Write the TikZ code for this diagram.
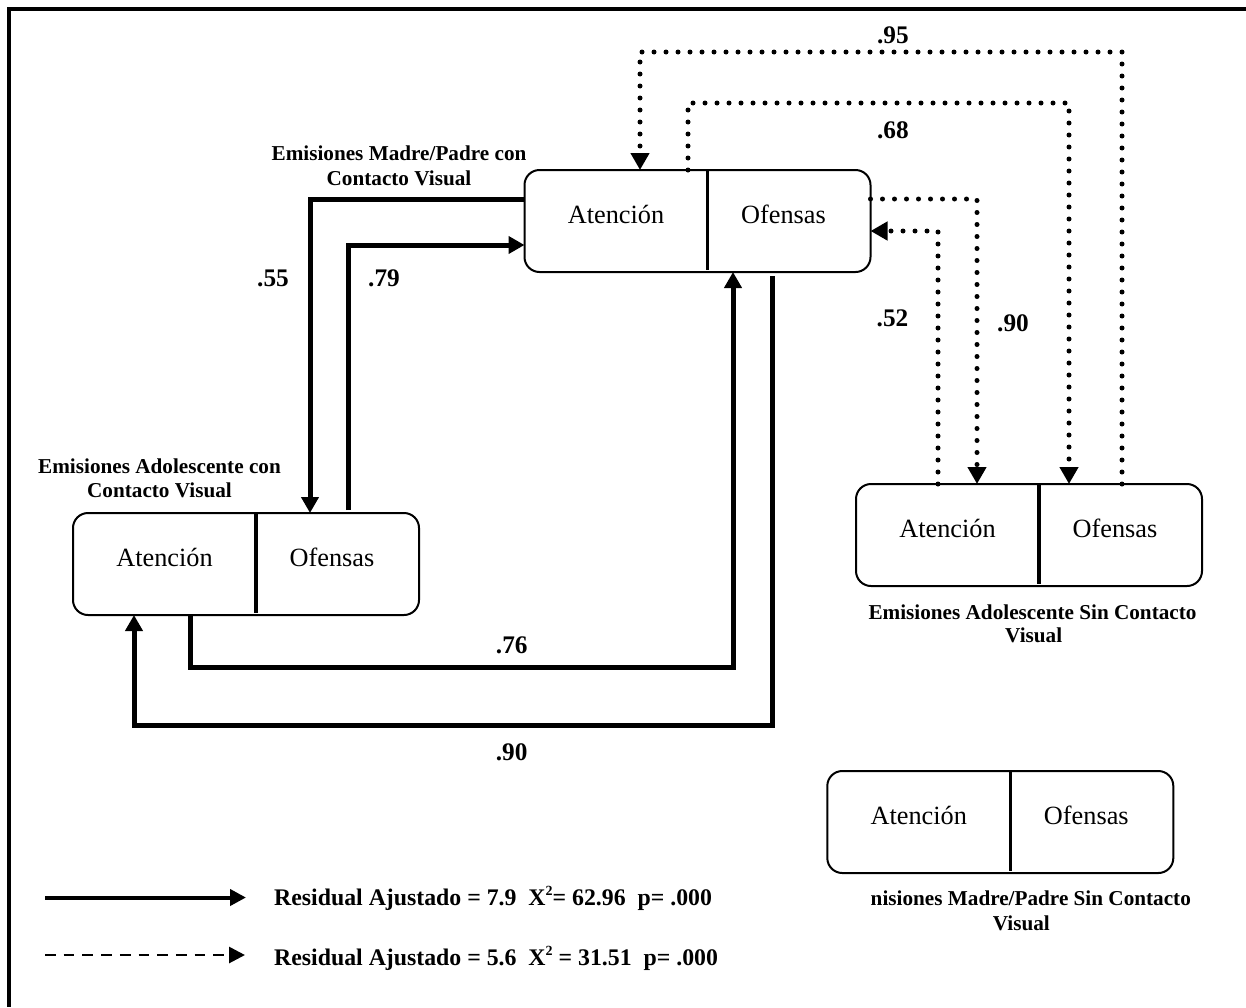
\documentclass[tikz,border=0pt]{standalone}
\usepackage{fontspec}
\setmainfont{Liberation Serif}
\usetikzlibrary{arrows.meta,calc}

% One two-part panel: outline, divider and the two category names
\newcommand\emisbox[3]{%
  \node[panel, anchor=north west] (#1) at (#2,#3) {};
  \draw[divider] ($(#1.north west)+(183,0)$) -- ++(0,99.5);
  \node[boxtxt] (#1-a) at ($(#1.north west)+(91.5,53)$) {Atención};
  \node[boxtxt] (#1-o) at ($(#1.north west)+(259,53)$) {Ofensas};
}
% small raised exponent
\newcommand\sqexp{\raisebox{0.42em}{\fontsize{14}{14}\selectfont 2}}

\begin{document}
\begin{tikzpicture}[x=1pt,y=-1pt,
  panel/.style={draw, line width=2pt, rounded corners=15pt, minimum width=346pt,
    minimum height=102pt, inner sep=0pt, outer sep=0pt},
  divider/.style={line width=3.4pt},
  boxtxt/.style={inner sep=0pt, anchor=base, font=\fontsize{26.3}{30}\selectfont},
  lbl/.style={inner sep=0pt, anchor=base, font=\bfseries\fontsize{21.2}{24}\selectfont},
  num/.style={inner sep=0pt, anchor=base, font=\bfseries\fontsize{25.3}{28}\selectfont},
  legtxt/.style={inner sep=0pt, anchor=base west, font=\bfseries\fontsize{23.8}{28}\selectfont},
  strong/.style={line width=5pt, -{Triangle[length=16pt,width=17pt]}},
  weak/.style={line width=5pt, line cap=round, dash pattern=on 0pt off 12pt,
    -{Triangle[length=17pt,width=18pt]}},
]
\useasboundingbox (0,0) rectangle (1246,1007);

% frame
\draw[line width=4.3pt] (1246,9) -- (9,9) -- (9,1007);

% panels
\emisbox{mpc}{524.5}{170}
\emisbox{adc}{73}{513}
\emisbox{ads}{856}{484}
\emisbox{mps}{827.3}{771}

% panel titles
\node[lbl] (mpc-t1) at (399,160.7) {Emisiones Madre/Padre con};
\node[lbl] (mpc-t2) at (399,185) {Contacto Visual};
\node[lbl] (adc-t1) at (159.5,473) {Emisiones Adolescente con};
\node[lbl] (adc-t2) at (159.5,497.5) {Contacto Visual};
\node[lbl] (ads-t1) at (1032.5,619) {Emisiones Adolescente Sin Contacto};
\node[lbl] (ads-t2) at (1033.7,642.7) {Visual};
\node[lbl] (mps-t1) at (1030.8,905.7) {nisiones Madre/Padre Sin Contacto};
\node[lbl] (mps-t2) at (1021.3,930) {Visual};

% solid connectors
\draw[strong] ($(mpc.north west)+(0,29)$) -| ($(adc.north west)+(237,0)$);
\draw[strong] ($(adc.north west)+(275,-3)$) |- ($(mpc.north west)+(0,75)$);
\draw[strong] ($(adc.south west)+(117.6,0)$) -- ++(0,52) -| ($(mpc.south west)+(208.5,0)$);
\draw[strong] ($(mpc.south west)+(247.5,4)$) -- ++(0,449) -| ($(adc.south west)+(61,0)$);

% dotted connectors
\draw[weak] ($(ads.north west)+(266,0)$) -- ++(0,-432) -| ($(mpc.north west)+(115.5,0)$);
\draw[weak] ($(mpc.north west)+(163.5,0)$) -- ++(0,-67) -| ($(ads.north west)+(213,0)$);
\draw[weak] ($(mpc.north east)+(0,29)$) -| ($(ads.north west)+(121,0)$);
\draw[weak] ($(ads.north west)+(82,0)$) |- ($(mpc.north east)+(0,61)$);

% coefficients
\node[num] (n95) at (892.9,43.3) {.95};
\node[num] (n68) at (892.9,138.3) {.68};
\node[num] (n55) at (273,286) {.55};
\node[num] (n79) at (384,286) {.79};
\node[num] (n52) at (892.5,326.7) {.52};
\node[num] (n90a) at (1013,331.7) {.90};
\node[num] (n76) at (511.8,653.3) {.76};
\node[num] (n90b) at (511.6,760) {.90};

% legend
\coordinate (ls0) at (45,897.5);
\coordinate (ls1) at (246,897.5);
\coordinate (ld0) at (45,955);
\coordinate (ld1) at (245,955);
\draw[line width=4pt, -{Triangle[length=16pt,width=16pt]}] (ls0) -- (ls1);
\draw[line width=2.8pt, dash pattern=on 10.7pt off 8pt, -{Triangle[length=16pt,width=16pt]}] (ld0) -- (ld1);
\node[legtxt] (leg1) at (274,905.7) {Residual Ajustado = 7.9\ \ X\sqexp= 62.96\ \ p= .000};
\node[legtxt] (leg2) at (274,965) {Residual Ajustado = 5.6\ \ X\sqexp\ = 31.51\ \ p= .000};
\end{tikzpicture}
\end{document}
